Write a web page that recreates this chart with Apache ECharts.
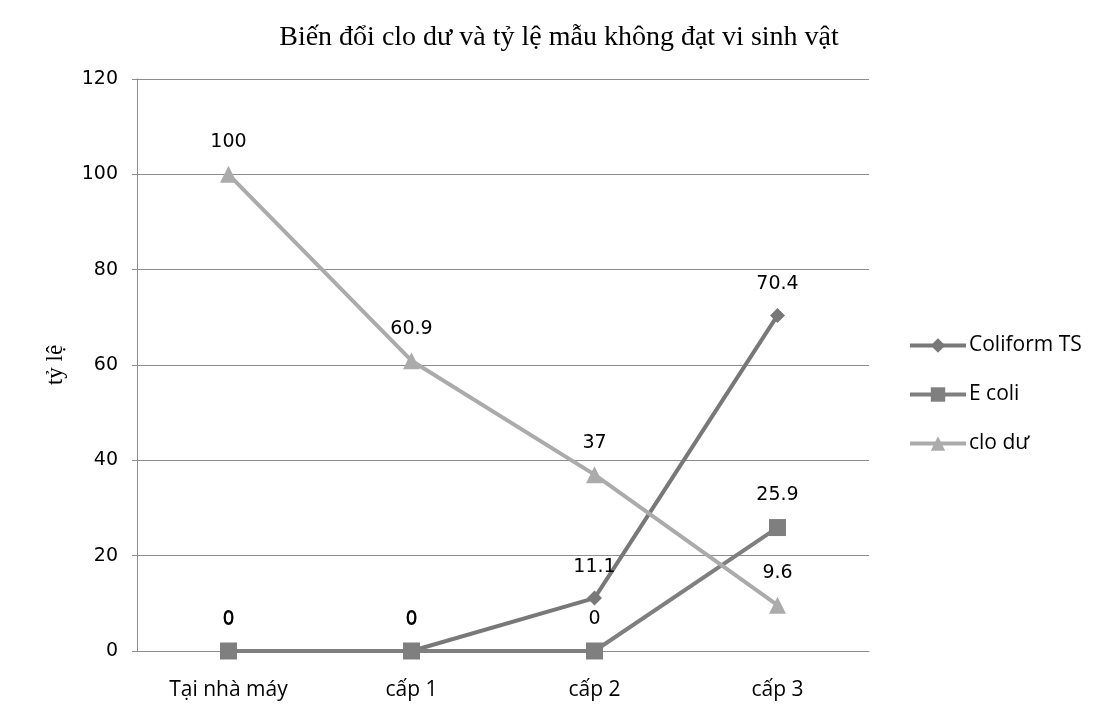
<!DOCTYPE html>
<html><head><meta charset="utf-8">
<script src="https://cdn.jsdelivr.net/npm/echarts@6/dist/echarts.min.js"></script>
<style>html,body{margin:0;padding:0;background:#fff}#c{width:1103px;height:716px}</style>
</head><body><div id="c"></div>
<script>
const categories = ['Tại nhà máy', 'cấp 1', 'cấp 2', 'cấp 3'];
const coliformTS = [0, 0, 11.1, 70.4];
const eColi = [0, 0, 0, 25.9];
const cloDu = [100, 60.9, 37, 9.6];
const yTicks = { min: 0, max: 120, interval: 20 };

const chart = echarts.init(document.getElementById('c'));
const lbl = { show: true, position: 'top', distance: 14, color: '#000', fontFamily: 'DejaVu Sans', fontSize: 19 };
chart.setOption({
  animation: false,
  title: { text: 'Biến đổi clo dư và tỷ lệ mẫu không đạt vi sinh vật', left: 554, top: 19, textAlign: 'center',
    textStyle: { fontFamily: 'Liberation Serif', fontWeight: 'normal', fontSize: 28, color: '#000' } },
  grid: { left: 137, right: 234, top: 79, bottom: 65 },
  legend: { orient: 'vertical', left: 903, top: 330, itemGap: 28, itemWidth: 56, itemHeight: 18,
    lineStyle: { width: 4 },
    textStyle: { fontFamily: 'Open Sans', fontSize: 21, color: '#000', padding: [0, 0, 0, -2] },
    data: ['Coliform TS', 'E coli', 'clo dư'] },
  xAxis: { type: 'category', data: categories, boundaryGap: true,
    axisLine: { lineStyle: { color: '#8c8c8c', width: 1 } }, axisTick: { show: false },
    axisLabel: { color: '#000', fontFamily: 'Open Sans', fontSize: 21, margin: 29 } },
  yAxis: { type: 'value', min: yTicks.min, max: yTicks.max, interval: yTicks.interval,
    name: 'tỷ lệ', nameLocation: 'middle', nameGap: 70, nameRotate: 90,
    nameTextStyle: { fontFamily: 'Liberation Serif', fontSize: 23, color: '#000' },
    axisLine: { show: true, lineStyle: { color: '#8c8c8c' } }, axisTick: { show: true, length: 5, lineStyle: { color: '#8c8c8c' } },
    axisLabel: { color: '#000', fontFamily: 'DejaVu Sans', fontSize: 19, margin: 19 },
    splitLine: { lineStyle: { color: '#8c8c8c', width: 1 } } },
  series: [
    { name: 'Coliform TS', type: 'line', data: coliformTS, symbol: 'diamond', symbolSize: 15,
      lineStyle: { color: '#787878', width: 4 }, itemStyle: { color: '#787878' }, label: lbl },
    { name: 'E coli', type: 'line', data: eColi, symbol: 'rect', symbolSize: 17,
      lineStyle: { color: '#7f7f7f', width: 4 }, itemStyle: { color: '#7f7f7f' }, label: lbl },
    { name: 'clo dư', type: 'line', data: cloDu, symbol: 'triangle', symbolSize: 17,
      lineStyle: { color: '#ababab', width: 4 }, itemStyle: { color: '#ababab' }, label: lbl }
  ]
});
</script></body></html>
